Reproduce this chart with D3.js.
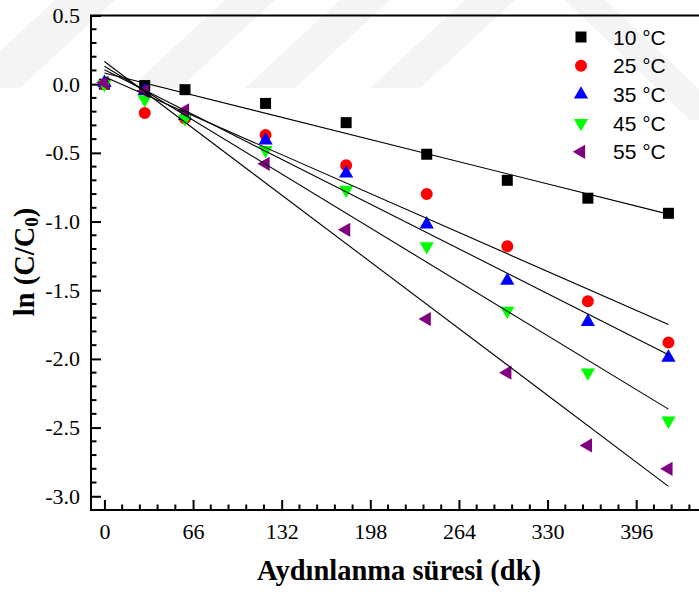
<!DOCTYPE html>
<html>
<head>
<meta charset="utf-8">
<script src="https://cdn.jsdelivr.net/npm/d3@7"></script>
<style>
  html, body { margin: 0; padding: 0; background: #ffffff; }
  svg { display: block; }
</style>
</head>
<body>
<svg id="chart" width="699" height="592"></svg>
<script>
// ---- data ----
const times = [0, 30, 60, 120, 180, 240, 300, 360, 420];
const seriesNames = ["10 °C", "25 °C", "35 °C", "45 °C", "55 °C"];
const values10 = [0.00, -0.01, -0.04, -0.14, -0.28, -0.51, -0.70, -0.83, -0.94];
const values25 = [0.00, -0.21, -0.25, -0.37, -0.59, -0.80, -1.18, -1.58, -1.88];
const values35 = [0.01, -0.05, -0.23, -0.41, -0.65, -1.02, -1.43, -1.73, -1.99];
const values45 = [0.00, -0.11, -0.25, -0.48, -0.77, -1.18, -1.65, -2.10, -2.45];
const values55 = [0.01, -0.05, -0.19, -0.58, -1.06, -1.71, -2.10, -2.63, -2.80];
const xTickValues = [0, 66, 132, 198, 264, 330, 396];
const yTickValues = [0.5, 0.0, -0.5, -1.0, -1.5, -2.0, -2.5, -3.0];

const seriesValues = [values10, values25, values35, values45, values55];
const colors = ["#000000", "#ff0000", "#0000ff", "#00ff00", "#800080"];
const symbolTypes = [d3.symbolSquare, d3.symbolCircle, d3.symbolTriangle, d3.symbolTriangle, d3.symbolTriangle];
const symbolRotations = [0, 0, 0, 180, -90];
const symbolSizes = [121, 113, 88, 88, 88];

// ---- layout ----
const svg = d3.select("#chart");
const pLeft = 91, pRight = 700, pTop = 15.5, pBottom = 510;
const x = d3.scaleLinear().domain([-10, 443.5]).range([pLeft, pRight]);
const y = d3.scaleLinear().domain([-3.1, 0.5]).range([pBottom, pTop]);
const serif = "'Liberation Serif', 'Times New Roman', serif";

// faint background watermark
const wm = svg.append("g").attr("fill", "#f4f4f4");
[[-40, 20], [130, 180], [245, 295], [370, 420]].forEach(([a, b]) => {
  wm.append("path").attr("d", `M${a},88 L${b},88 L${b + 95},0 L${a + 95},0 Z`);
});
wm.append("path").attr("d", "M565,0 L605,0 L700,90 L700,120 L690,120 Z");

// ---- axes ----
const majorLen = 10, minorLen = 5.5;
const xMinor = d3.range(0, 443, 13.2).filter(v => Math.abs(v / 66 - Math.round(v / 66)) > 1e-6);
const yMinor = d3.range(-30, 6, 1).map(v => v / 10).filter(v => Math.abs(v * 2 - Math.round(v * 2)) > 1e-6);

const xAxis = svg.append("g").attr("transform", `translate(0,${pBottom})`);
xAxis.call(d3.axisBottom(x).tickValues(xTickValues).tickSize(-majorLen).tickPadding(13)
  .tickFormat(d3.format("d")).tickSizeOuter(0));
xAxis.selectAll(".tick line").attr("stroke-width", 2);
xAxis.selectAll("text").attr("font-family", serif)
  .attr("font-size", 22).attr("fill", "#000");
xAxis.select(".domain").remove();
xAxis.selectAll(".minor").data(xMinor).enter().append("line").attr("class", "minor")
  .attr("x1", d => x(d)).attr("x2", d => x(d)).attr("y1", 0).attr("y2", -minorLen)
  .attr("stroke", "#000").attr("stroke-width", 2);

const yAxis = svg.append("g").attr("transform", `translate(${pLeft},0)`);
yAxis.call(d3.axisLeft(y).tickValues(yTickValues).tickSize(-majorLen).tickPadding(11)
  .tickFormat(d3.format(".1f")).tickSizeOuter(0));
yAxis.selectAll(".tick line").attr("stroke-width", 2);
yAxis.selectAll("text").attr("font-family", serif)
  .attr("font-size", 22).attr("fill", "#000").text(d => d3.format(".1f")(d).replace("−", "-"));
yAxis.select(".domain").remove();
yAxis.selectAll(".minor").data(yMinor).enter().append("line").attr("class", "minor")
  .attr("x1", 0).attr("x2", minorLen).attr("y1", d => y(d)).attr("y2", d => y(d))
  .attr("stroke", "#000").attr("stroke-width", 2);

// frame
svg.append("rect").attr("x", pLeft).attr("y", pTop).attr("width", pRight - pLeft).attr("height", pBottom - pTop)
  .attr("fill", "none").attr("stroke", "#000").attr("stroke-width", 2);

// ---- markers ----
const plot = svg.append("g");
seriesValues.forEach((vals, i) => {
  const sym = d3.symbol().type(symbolTypes[i]).size(symbolSizes[i]);
  plot.append("g").selectAll("path").data(vals).enter().append("path")
    .attr("d", sym)
    .attr("transform", (d, j) => `translate(${x(times[j])},${y(d)}) rotate(${symbolRotations[i]})`)
    .attr("fill", colors[i]);
});

// ---- linear fit lines (least squares on the data) ----
function fit(xs, ys) {
  const mx = d3.mean(xs), my = d3.mean(ys);
  let sxy = 0, sxx = 0;
  xs.forEach((v, k) => { sxy += (v - mx) * (ys[k] - my); sxx += (v - mx) * (v - mx); });
  const b = sxy / sxx;
  return { a: my - b * mx, b };
}
const xFitRange = d3.extent(times);
seriesValues.forEach(vals => {
  const f = fit(times, vals);
  svg.append("path")
    .datum(xFitRange.map(t => [t, f.a + f.b * t]))
    .attr("d", d3.line().x(d => x(d[0])).y(d => y(d[1])))
    .attr("fill", "none").attr("stroke", "#000").attr("stroke-width", 1.1);
});

// ---- legend ----
const legend = svg.append("g");
seriesNames.forEach((name, i) => {
  const ly = 37 + i * 28.7;
  legend.append("path")
    .attr("d", d3.symbol().type(symbolTypes[i]).size(symbolSizes[i])())
    .attr("transform", `translate(581,${ly}) rotate(${symbolRotations[i]})`)
    .attr("fill", colors[i]);
  legend.append("text").attr("x", 613).attr("y", ly + 7.5)
    .attr("font-family", "'Liberation Sans', Arial, sans-serif").attr("font-size", 21)
    .attr("fill", "#000").text(name);
});

// ---- axis titles ----
svg.append("text").attr("x", 399).attr("y", 580).attr("text-anchor", "middle")
  .attr("font-family", serif).attr("font-weight", "bold")
  .attr("font-size", 28.5).attr("fill", "#000").text("Aydınlanma süresi (dk)");

const yt = svg.append("text").attr("transform", "translate(34,262) rotate(-90)")
  .attr("text-anchor", "middle")
  .attr("font-family", serif).attr("font-weight", "bold")
  .attr("font-size", 28.5).attr("fill", "#000");
yt.append("tspan").text("ln (C/C");
yt.append("tspan").attr("font-size", 19).attr("dy", 4).text("0");
yt.append("tspan").attr("dy", -4).text(")");
</script>
</body>
</html>
